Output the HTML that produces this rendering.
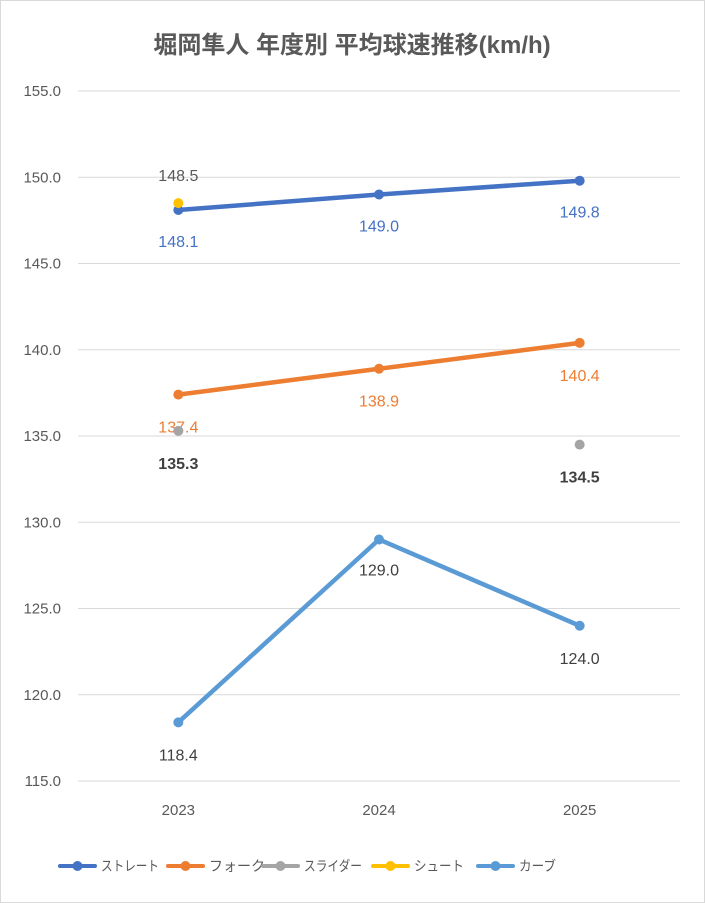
<!DOCTYPE html>
<html><head><meta charset="utf-8"><style>
body{margin:0;background:#fff}
svg{display:block;font-family:"Liberation Sans","Noto Sans CJK JP",sans-serif}
</style></head><body>
<svg id="chart" width="705" height="903" viewBox="0 0 705 903">
<rect x="0.5" y="0.5" width="704" height="902" fill="#fff" stroke="#d9d9d9"/>
<text x="352" y="53" text-anchor="middle" font-size="24" font-weight="bold" fill="#595959">堀岡隼人 年度別 平均球速推移(km/h)</text>
<g id="grid"></g><g id="series"></g><g id="legend"></g>
</svg>
<script>
const categories=["2023","2024","2025"];
const yTicks=[115,120,125,130,135,140,145,150,155];
const seriesNames=["ストレート","フォーク","スライダー","シュート","カーブ"];
const straightVals=[148.1,149.0,149.8];
const forkVals=[137.4,138.9,140.4];
const sliderVals=[135.3,null,134.5];
const shootVals=[148.5,null,null];
const curveVals=[118.4,129.0,124.0];
const colors=["#4472C4","#ED7D31","#A5A5A5","#FFC000","#5B9BD5"];
const labelColors=["#4472C4","#ED7D31","#404040","#595959","#404040"];
const labelBold=[false,false,true,false,false];
const labelOffsets=[[31,31,31],[32,32,32],[32,32,32],[-28,0,0],[32,30,32]];
const NS="http://www.w3.org/2000/svg";
const L=78,R=680,T=91,B=781,yMin=115,yMax=155;
const x=i=>L+(R-L)/categories.length*(i+0.5);
const y=v=>B-(v-yMin)/(yMax-yMin)*(B-T);
function mk(tag,attrs,parent){const e=document.createElementNS(NS,tag);for(const k in attrs)e.setAttribute(k,attrs[k]);parent.appendChild(e);return e;}
const grid=document.getElementById('grid');
yTicks.forEach(t=>{
 const l=mk('line',{x1:L,x2:R,y1:y(t),y2:y(t),stroke:'#d9d9d9','stroke-width':1},grid);
 
 
 const tx=mk('text',{x:61,y:y(t)+5,'text-anchor':'end','font-size':15,fill:'#595959'},grid);
 tx.textContent=t.toFixed(1);
 
 
});
categories.forEach((c,i)=>{
 const tx=mk('text',{x:x(i),y:815,'text-anchor':'middle','font-size':15,fill:'#595959'},grid);
 tx.textContent=c;
 
 
});
const allVals=[straightVals,forkVals,sliderVals,shootVals,curveVals];
const sg=document.getElementById('series');
allVals.forEach((vals,s)=>{
 const g=mk('g',{},sg);
 
 
 const pts=[];vals.forEach((v,i)=>{if(v!==null)pts.push([x(i),y(v)]);});
 let contiguous=vals.every(v=>v!==null);
 if(contiguous&&pts.length>1){
  const p=mk('polyline',{points:pts.map(p=>p.join(',')).join(' '),fill:'none',stroke:colors[s],'stroke-width':4.5,'stroke-linejoin':'round','stroke-linecap':'round'},g);
  
  
 }
 vals.forEach((v,i)=>{
  if(v===null)return;
  const c=mk('circle',{cx:x(i),cy:y(v),r:5,fill:colors[s]},g);
  
  
  const t=mk('text',{x:x(i),y:y(v)+labelOffsets[s][i]+6,'text-anchor':'middle','font-size':16,fill:labelColors[s],'font-weight':labelBold[s]?'bold':'normal'},g);
  t.textContent=v.toFixed(1);
  
  
 });
});
const lg=document.getElementById('legend');
const lx=[60,168,263,373,478];
const lw=[58,56,58,50,37];
seriesNames.forEach((n,i)=>{
 const g=mk('g',{},lg);
 
 
 mk('line',{x1:lx[i],x2:lx[i]+35,y1:866,y2:866,stroke:colors[i],'stroke-width':4,'stroke-linecap':'round'},g);
 mk('circle',{cx:lx[i]+17.5,cy:866,r:5,fill:colors[i]},g);
 const t=mk('text',{x:lx[i]+41,y:871,'font-size':14,fill:'#595959',textLength:lw[i],lengthAdjust:'spacingAndGlyphs'},g);
 t.textContent=n;
});
</script>
</body></html>
